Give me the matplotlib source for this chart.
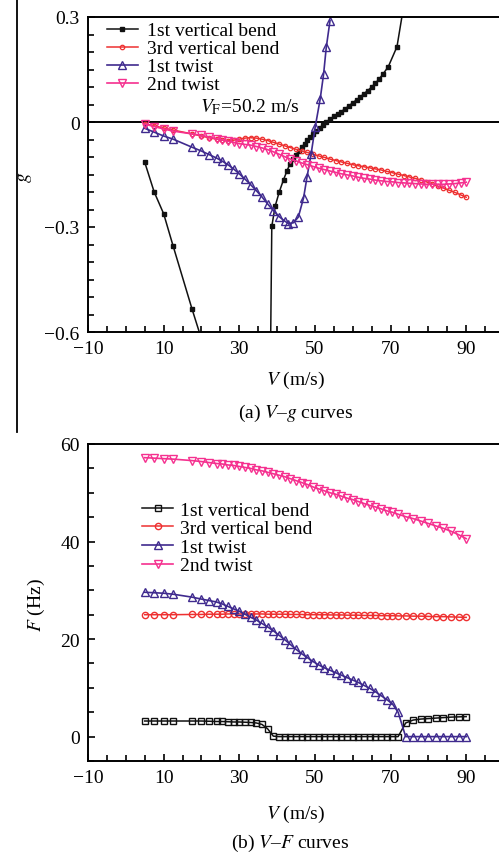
import matplotlib
matplotlib.use("Agg")
import matplotlib.pyplot as plt
from matplotlib.ticker import FixedLocator, MultipleLocator, FixedFormatter
from matplotlib.lines import Line2D

plt.rcParams['font.family'] = ['Liberation Serif', 'DejaVu Serif']
plt.rcParams['mathtext.fontset'] = 'stix'

# ---- (a) V-g data ----
V_top = [5, 7.5, 10, 12.5, 17.5, 20, 22, 24, 25.5, 27, 28.5, 30, 31.5, 33, 34.5, 36, 37.5, 39,
         40.5, 42, 43.5, 45, 46.5, 48, 49.5, 51, 52.5, 54, 55.5, 57, 58.5, 60, 61.5, 63, 64.5,
         66, 67.5, 69, 70.5, 72, 73.5, 75, 76.5, 78, 79.5, 81, 82.5, 84, 85.5, 87, 88.5, 90]
g_bend3 = [-0.005, -0.011, -0.017, -0.023, -0.034, -0.040, -0.045, -0.049, -0.052, -0.053,
           -0.052, -0.049, -0.046, -0.045, -0.046, -0.049, -0.053, -0.058, -0.063, -0.068,
           -0.073, -0.078, -0.083, -0.087, -0.092, -0.097, -0.101, -0.106, -0.110, -0.114,
           -0.118, -0.122, -0.125, -0.128, -0.131, -0.134, -0.137, -0.141, -0.145, -0.149,
           -0.153, -0.157, -0.161, -0.166, -0.171, -0.177, -0.183, -0.189, -0.195, -0.201,
           -0.208, -0.215]
g_twist2 = [-0.006, -0.013, -0.020, -0.026, -0.034, -0.038, -0.043, -0.048, -0.051, -0.055,
            -0.058, -0.062, -0.064, -0.066, -0.070, -0.074, -0.079, -0.085, -0.092, -0.099,
            -0.106, -0.111, -0.117, -0.122, -0.127, -0.132, -0.136, -0.140, -0.144, -0.148,
            -0.151, -0.154, -0.158, -0.161, -0.163, -0.166, -0.168, -0.170, -0.171, -0.173,
            -0.174, -0.175, -0.176, -0.177, -0.178, -0.178, -0.178, -0.178, -0.177, -0.176,
            -0.174, -0.172]

V_twist1_top = [5, 7.5, 10, 12.5, 17.5, 20, 22, 24, 25.5, 27, 28.5, 30, 31.5, 33, 34.5, 36,
                37.5, 39, 40.5, 42, 43, 44.3, 45.6, 47, 47.9, 49, 50.1, 51.4, 52.3, 53, 54]
g_twist1 = [-0.018, -0.029, -0.040, -0.049, -0.072, -0.083, -0.093, -0.103, -0.112, -0.122,
            -0.134, -0.148, -0.163, -0.179, -0.196, -0.214, -0.234, -0.253, -0.270, -0.283,
            -0.290, -0.288, -0.272, -0.217, -0.158, -0.091, -0.013, 0.066, 0.137, 0.213, 0.290]

V_bend1_left = [5, 7.5, 10, 12.5, 17.5, 20]
g_bend1_left = [-0.115, -0.200, -0.262, -0.354, -0.534, -0.620]
V_bend1_right = [38.3, 38.6, 39.5, 40.6, 41.7, 42.6, 43.4, 44.2, 45, 45.8, 46.5, 47.3, 48, 48.8,
                 49.6, 50.4, 51.3, 52.1, 53, 54, 55, 56, 57, 58, 59, 60, 61, 62, 63, 64, 65,
                 66, 67, 68, 69.4, 71.7, 73.3]
g_bend1_right = [-0.620, -0.298, -0.240, -0.199, -0.165, -0.140, -0.120, -0.106, -0.093, -0.082,
                 -0.072, -0.062, -0.052, -0.043, -0.034, -0.025, -0.016, -0.008, 0.000, 0.008,
                 0.016, 0.023, 0.030, 0.038, 0.046, 0.055, 0.063, 0.072, 0.081, 0.090, 0.100,
                 0.111, 0.123, 0.137, 0.158, 0.215, 0.320]

# ---- (b) V-F data ----
V_bot = [5, 7.5, 10, 12.5, 17.5, 20, 22, 24, 25.5, 27, 28.5, 30, 31.5, 33, 34.5, 36, 37.5, 39,
         40.5, 42, 43.5, 45, 46.5, 48, 49.5, 51, 52.5, 54, 55.5, 57, 58.5, 60, 61.5, 63, 64.5,
         66, 67.5, 69, 70.5, 72, 74, 76, 78, 80, 82, 84, 86, 88, 90]
F_bend1 = [3.2, 3.2, 3.2, 3.2, 3.2, 3.2, 3.15, 3.1, 3.1, 3.05, 3.0, 3.0, 2.95, 2.9, 2.8, 2.5,
           1.6, 0.1, 0, 0, 0, 0, 0, 0, 0, 0, 0, 0, 0, 0, 0, 0, 0, 0, 0, 0, 0, 0, 0, 0,
           2.8, 3.4, 3.6, 3.7, 3.8, 3.9, 4.0, 4.05, 4.1]
F_bend3 = [25.0, 25.0, 25.0, 25.0, 25.05, 25.05, 25.1, 25.1, 25.1, 25.15, 25.15, 25.15, 25.15,
           25.15, 25.15, 25.15, 25.1, 25.1, 25.1, 25.1, 25.05, 25.05, 25.05, 25.0, 25.0, 25.0,
           25.0, 24.95, 24.95, 24.95, 24.9, 24.9, 24.9, 24.85, 24.85, 24.85, 24.8, 24.8, 24.8,
           24.75, 24.75, 24.7, 24.7, 24.65, 24.6, 24.6, 24.55, 24.5, 24.45]
F_twist1 = [29.6, 29.5, 29.4, 29.2, 28.6, 28.2, 27.9, 27.6, 27.2, 26.7, 26.2, 25.7, 25.1, 24.5,
            23.9, 23.2, 22.5, 21.7, 20.8, 19.9, 18.9, 17.9, 17.0, 16.2, 15.4, 14.7, 14.1, 13.6,
            13.1, 12.6, 12.1, 11.6, 11.1, 10.5, 9.9, 9.2, 8.4, 7.6, 6.7, 5.0,
            0, 0, 0, 0, 0, 0, 0, 0, 0]
F_twist2 = [57.2, 57.1, 57.0, 56.9, 56.6, 56.4, 56.2, 56.0, 55.9, 55.7, 55.6, 55.4, 55.2, 55.0,
            54.7, 54.5, 54.2, 53.9, 53.6, 53.3, 52.9, 52.5, 52.1, 51.7, 51.2, 50.8, 50.4, 50.0,
            49.7, 49.3, 48.9, 48.6, 48.2, 47.8, 47.4, 47.1, 46.7, 46.3, 46.0, 45.6,
            45.1, 44.7, 44.2, 43.7, 43.2, 42.7, 42.1, 41.4, 40.6]

labels = ['1st vertical bend', '3rd vertical bend', '1st twist', '2nd twist']
c_black, c_red, c_purple, c_pink = '#111111', '#ee3030', '#3f2a8e', '#f5308f'

x_major = [-10, 10, 30, 50, 70, 90]
g_ticks = [-0.6, -0.3, 0, 0.3]
g_ticklabels = ['\u22120.6', '\u22120.3', '0', '0.3']
F_ticks = [0, 20, 40, 60]

fs = 14
W, H = 499, 854
fig = plt.figure(figsize=(W / 100, H / 100), dpi=100)

ax1 = fig.add_axes([88 / W, 1 - 333 / H, 416 / W, 315 / H])
ax2 = fig.add_axes([88 / W, 1 - 762 / H, 416 / W, 317 / H])

# (a)
ax1.axhline(0, color='black', lw=1.4, zorder=1)
ax1.plot(V_bend1_left, g_bend1_left, '-s', color=c_black, ms=2.5, lw=1.1, label=labels[0])
ax1.plot(V_bend1_right, g_bend1_right, '-s', color=c_black, ms=2.5, lw=1.1)
ax1.plot(V_top, g_bend3, '-o', color=c_red, ms=3.2, mfc='none', mew=0.9, lw=1.1, label=labels[1])
ax1.plot(V_twist1_top, g_twist1, '-^', color=c_purple, ms=5.5, mfc='none', mew=1.0, lw=1.2,
         label=labels[2])
ax1.plot(V_top, g_twist2, '-v', color=c_pink, ms=5.5, mfc='none', mew=1.0, lw=1.2, label=labels[3])
ax1.text(19.6, 0.03, r'$V_{\mathrm{F}}$=50.2 m/s', fontsize=fs, va='baseline')
ax1.set_xlim(-10, 100)
ax1.set_ylim(-0.6, 0.3)
ax1.yaxis.set_major_locator(FixedLocator(g_ticks))
ax1.yaxis.set_major_formatter(FixedFormatter(g_ticklabels))
ax1.yaxis.set_minor_locator(MultipleLocator(0.05))
ax1.legend(loc='upper left', bbox_to_anchor=(0.045, 0.985), frameon=False, fontsize=fs,
           handlelength=1.6, handletextpad=0.45, labelspacing=0.02, borderpad=0,
           borderaxespad=0)

# (b)
ax2.plot(V_bot, F_bend1, '-s', color=c_black, ms=4.5, mfc='none', mew=1.0, lw=1.1, label=labels[0])
ax2.plot(V_bot, F_bend3, '-o', color=c_red, ms=4.5, mfc='none', mew=1.0, lw=1.1, label=labels[1])
ax2.plot(V_bot, F_twist1, '-^', color=c_purple, ms=5.5, mfc='none', mew=1.0, lw=1.2, label=labels[2])
ax2.plot(V_bot, F_twist2, '-v', color=c_pink, ms=5.5, mfc='none', mew=1.0, lw=1.2, label=labels[3])
ax2.set_xlim(-10, 100)
ax2.set_ylim(-5, 60)
ax2.yaxis.set_major_locator(FixedLocator(F_ticks))
ax2.yaxis.set_minor_locator(MultipleLocator(5))
ax2.legend(loc='upper left', bbox_to_anchor=(0.13, 0.82), frameon=False, fontsize=fs,
           handlelength=1.6, handletextpad=0.35, labelspacing=0.05, borderpad=0,
           borderaxespad=0)

for ax in (ax1, ax2):
    ax.xaxis.set_major_locator(FixedLocator(x_major))
    ax.xaxis.set_minor_locator(MultipleLocator(5))
    ax.tick_params(which='both', direction='in', top=False, right=False, labelsize=fs,
                   width=1.2, pad=6)
    ax.tick_params(which='major', length=5)
    ax.tick_params(which='minor', length=4)
    for sp in ax.spines.values():
        sp.set_linewidth(1.4)
    ax.spines['right'].set_visible(False)

ax1.set_xlabel('$V$ (m/s)', fontsize=fs, labelpad=8)
ax2.set_xlabel('$V$ (m/s)', fontsize=fs, labelpad=12)
fig.text(296 / W, 1 - 413 / H, '(a) $V$\u2013$g$ curves', fontsize=fs, ha='center', va='center')
fig.text(290 / W, 1 - 843 / H, '(b) $V$\u2013$F$ curves', fontsize=fs, ha='center', va='center')
fig.text(25 / W, 1 - 177 / H, '$g$', fontsize=fs, rotation=90, ha='center', va='center')
fig.text(36 / W, 1 - 605 / H, '$F$ (Hz)', fontsize=fs, rotation=90, ha='center', va='center')

# page border line on the left
fig.add_artist(Line2D([17 / W, 17 / W], [1.0, 1 - 433 / H], color='black', lw=1.3))

fig.savefig('out.png', dpi=100)
